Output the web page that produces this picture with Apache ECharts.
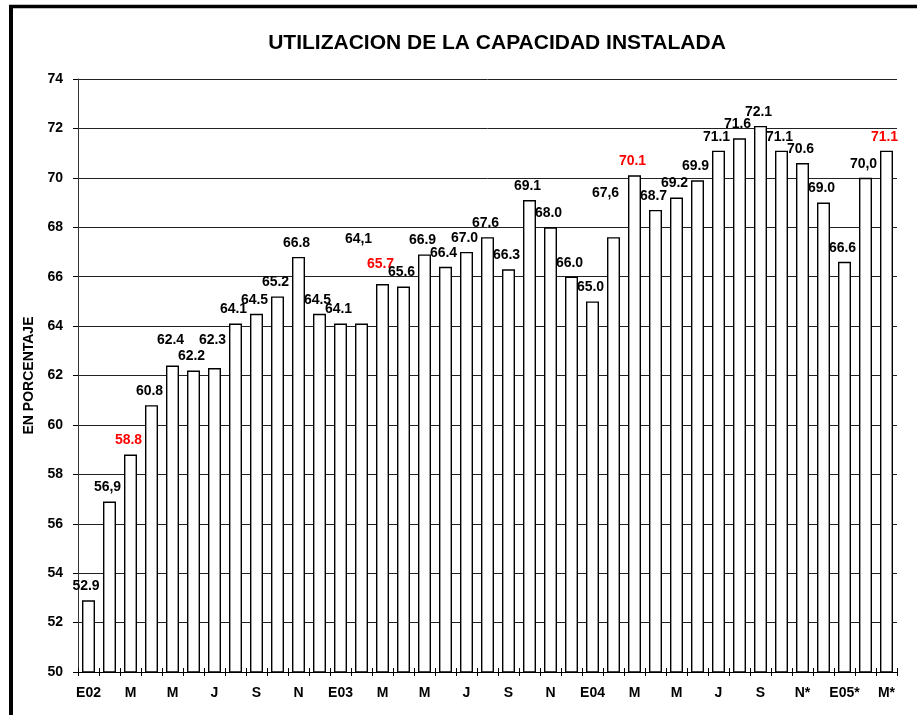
<!DOCTYPE html>
<html>
<head>
<meta charset="utf-8">
<script src="https://cdn.jsdelivr.net/npm/echarts@6/dist/echarts.min.js"></script>
<style>
html,body{margin:0;padding:0;background:#fff;}
#chart{width:917px;height:715px;}
</style>
</head>
<body>
<div id="chart"></div>
<script>
// ---- data ----
var categories = ['E02','F','M','A','M','J','J','A','S','O','N','D',
  'E03','F','M','A','M','J','J','A','S','O','N','D',
  'E04','F','M','A','M','J','J','A','S','O','N*','D*',
  'E05*','F*','M*'];
var values = [52.9,56.9,58.8,60.8,62.4,62.2,62.3,64.1,64.5,65.2,66.8,64.5,
  64.1,64.1,65.7,65.6,66.9,66.4,67.0,67.6,66.3,69.1,68.0,66.0,
  65.0,67.6,70.1,68.7,69.2,69.9,71.1,71.6,72.1,71.1,70.6,69.0,
  66.6,70.0,71.1];
var labelTexts = ['52.9','56,9','58.8','60.8','62.4','62.2','62.3','64.1','64.5','65.2','66.8','64.5',
  '64.1','64,1','65.7','65.6','66.9','66.4','67.0','67.6','66.3','69.1','68.0','66.0',
  '65.0','67,6','70.1','68.7','69.2','69.9','71.1','71.6','72.1','71.1','70.6','69.0',
  '66.6','70,0','71.1'];
var highlighted = [2, 14, 26, 38]; // labels shown in red
var yTicks = {min: 50, max: 74, interval: 2};
var title = 'UTILIZACION DE LA CAPACIDAD INSTALADA';
var yName = 'EN PORCENTAJE';

// ---- label placement tweaks (style) ----
var labelShift = {0:[-2.5,0], 4:[-2,-11.5], 6:[-2,-13.5], 13:[-3,-70.5], 14:[-2,-5.5], 25:[-8,-29.5]};

var FONT = 'Arial, "Liberation Sans", sans-serif';
var chart = echarts.init(document.getElementById('chart'), null, {renderer:'canvas'});

var seriesData = values.map(function(v, i){
  var off = labelShift[i] || [-2, 0];
  return {
    value: v,
    label: {
      offset: off,
      color: highlighted.indexOf(i) >= 0 ? '#ff0000' : '#000',
      formatter: labelTexts[i]
    }
  };
});

var option = {
  animation: false,
  backgroundColor: '#fff',
  title: {
    text: title,
    left: 492,
    top: 28,
    textAlign: 'center',
    textStyle: {fontFamily: FONT, fontWeight: 'bold', fontSize: 21, color: '#000'}
  },
  grid: {left: 78, right: 20, top: 79, bottom: 43, containLabel: false},
  xAxis: [{
    type: 'category',
    data: categories,
    position: 'bottom',
    axisLine: {lineStyle: {color: '#000', width: 1}},
    axisTick: {show: true, interval: 0, length: 4, lineStyle: {color: '#000'}},
    axisLabel: {interval: 1, margin: 14, fontFamily: FONT, fontWeight: 'bold', fontSize: 14, color: '#000'},
    splitLine: {show: false}
  }, {
    type: 'category',
    data: categories,
    position: 'top',
    offset: -593,
    axisLine: {show: false},
    axisTick: {show: true, interval: 0, length: 4, lineStyle: {color: '#000'}},
    axisLabel: {show: false},
    splitLine: {show: false}
  }],
  yAxis: {
    type: 'value',
    min: yTicks.min,
    max: yTicks.max,
    interval: yTicks.interval,
    name: yName,
    nameLocation: 'middle',
    nameRotate: 90,
    nameGap: 36,
    nameTextStyle: {fontFamily: FONT, fontWeight: 'bold', fontSize: 14, color: '#000'},
    axisLine: {show: true, lineStyle: {color: '#333', width: 1}},
    axisTick: {show: true, length: 5, lineStyle: {color: '#000'}},
    axisLabel: {margin: 15, fontFamily: FONT, fontWeight: 'bold', fontSize: 14, color: '#000'},
    splitLine: {show: true, lineStyle: {color: '#222', width: 1}}
  },
  series: [{
    type: 'bar',
    data: seriesData,
    barWidth: 13,
    itemStyle: {color: '#fff', borderColor: '#000', borderWidth: 1.4},
    label: {
      show: true,
      position: 'top',
      distance: 7,
      fontFamily: FONT,
      fontWeight: 'bold',
      fontSize: 14
    }
  }],
  graphic: [
    {type: 'line', shape: {x1: 9, y1: 6.5, x2: 917, y2: 6.5}, style: {stroke: '#000', lineWidth: 3.5}},
    {type: 'line', shape: {x1: 11, y1: 5, x2: 11, y2: 715}, style: {stroke: '#000', lineWidth: 4}}
  ]
};
chart.setOption(option);
</script>
</body>
</html>
